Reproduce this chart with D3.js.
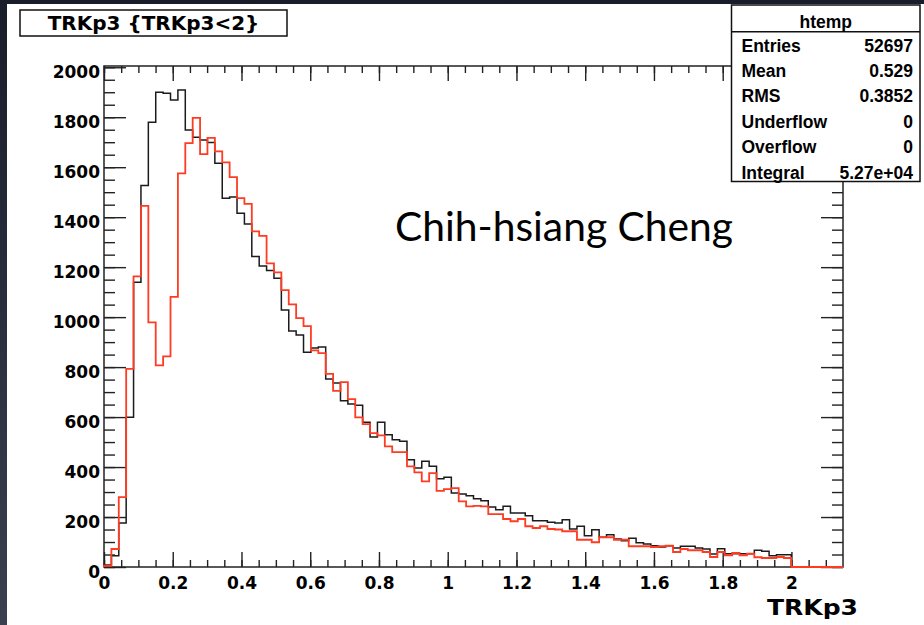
<!DOCTYPE html>
<html>
<head>
<meta charset="utf-8">
<script src="https://cdnjs.cloudflare.com/ajax/libs/d3/7.8.5/d3.min.js"></script>
<style>
  body { margin: 0; background: #1d2230; }
  svg { display: block; }
</style>
</head>
<body>
<div id="chart"></div>
<script>
// histogram binning (ROOT htemp)
var xMin = 0
var xMax = 2.15
var nBins = 100

// bin contents
var blackCounts = [8, 45, 176, 599, 1140, 1527, 1780, 1900, 1896, 1869,
  1909, 1749, 1720, 1709, 1699, 1616, 1476, 1481, 1416, 1373,
  1243, 1205, 1187, 1156, 1029, 944, 928, 859, 876, 880,
  752, 736, 665, 652, 647, 579, 520, 579, 529, 509,
  503, 429, 396, 423, 403, 353, 359, 296, 292, 285,
  273, 265, 240, 229, 243, 216, 216, 205, 185, 185,
  179, 176, 189, 152, 163, 125, 149, 119, 129, 112,
  105, 115, 97, 92, 85, 80, 85, 76, 83, 83,
  76, 72, 52, 73, 53, 53, 53, 53, 67, 63,
  45, 49, 49, 0, 0, 0, 0, 0, 0, 0]

var redCounts = [5, 72, 280, 793, 1163, 1445, 979, 807, 843, 1081,
  1575, 1696, 1797, 1652, 1717, 1663, 1619, 1560, 1476, 1453,
  1343, 1325, 1215, 1179, 1108, 1051, 996, 964, 867, 856,
  773, 705, 740, 672, 599, 572, 536, 527, 483, 460,
  460, 403, 379, 343, 376, 305, 312, 316, 263, 243,
  245, 243, 212, 212, 192, 183, 192, 163, 156, 163,
  152, 150, 143, 143, 109, 109, 99, 119, 119, 109,
  109, 83, 83, 83, 80, 83, 85, 60, 72, 67,
  67, 60, 40, 60, 47, 56, 47, 53, 39, 36,
  36, 40, 36, 0, 0, 0, 0, 0, 0, 0]

var xTicks = [0, 0.2, 0.4, 0.6, 0.8, 1, 1.2, 1.4, 1.6, 1.8, 2]
var yTicks = [0, 200, 400, 600, 800, 1000, 1200, 1400, 1600, 1800, 2000]
var yMax = 2005

var statNames = ["Entries", "Mean", "RMS", "Underflow", "Overflow", "Integral"]
var statValues = ["52697", "0.529", "0.3852", "0", "0", "5.27e+04"]

var width = 924
var height = 625
var frame = {left: 104, right: 843, top: 66, bottom: 567}

var svg, x, y

init_vis()
draw_axes()
draw_hist(blackCounts, "#1b1b1b", 1.5)
draw_hist(redCounts, "#ff3b22", 1.8)
draw_texts()
draw_stats()

function init_vis(){
  svg = d3.select("#chart")
    .append("svg")
      .attr("width", width)
      .attr("height", height)

  var grad = svg.append("defs").append("linearGradient")
    .attr("id", "bg").attr("x1", 0).attr("y1", 0).attr("x2", 0).attr("y2", 1)
  grad.append("stop").attr("offset", "0%").attr("stop-color", "#191d2a")
  grad.append("stop").attr("offset", "100%").attr("stop-color", "#3a404f")

  svg.append("rect")
    .attr("width", width).attr("height", height)
    .attr("fill", "url(#bg)")

  // white canvas of the ROOT picture
  svg.append("rect")
    .attr("x", 7).attr("y", 4)
    .attr("width", width - 7).attr("height", height - 4)
    .attr("fill", "white")

  x = d3.scaleLinear().domain([xMin, xMax]).range([frame.left, frame.right])
  y = d3.scaleLinear().domain([0, yMax]).range([frame.bottom, frame.top])
}

function style_axis(g){
  g.select(".domain").remove()
  g.selectAll("line").attr("stroke", "#222").attr("stroke-width", 1.4)
}

function draw_axes(){
  var minorX = d3.range(0, 43).map(i => i * 0.05)
  var minorY = d3.range(0, 41).map(i => i * 50)

  // bottom
  svg.append("g").attr("transform", "translate(0," + frame.bottom + ")")
    .call(d3.axisBottom(x).tickValues(minorX).tickSize(-7).tickFormat(""))
    .call(style_axis)
  svg.append("g").attr("class", "xlab").attr("transform", "translate(0," + frame.bottom + ")")
    .call(d3.axisBottom(x).tickValues(xTicks).tickSize(-15).tickPadding(10)
      .tickFormat(d => String(+d.toFixed(1))))
    .call(style_axis)

  // top (mirror)
  svg.append("g").attr("transform", "translate(0," + frame.top + ")")
    .call(d3.axisTop(x).tickValues(minorX).tickSize(-7).tickFormat(""))
    .call(style_axis)
  svg.append("g").attr("transform", "translate(0," + frame.top + ")")
    .call(d3.axisTop(x).tickValues(xTicks).tickSize(-15).tickFormat(""))
    .call(style_axis)

  // left
  svg.append("g").attr("transform", "translate(" + frame.left + ",0)")
    .call(d3.axisLeft(y).tickValues(minorY).tickSize(-11).tickFormat(""))
    .call(style_axis)
  svg.append("g").attr("class", "ylab").attr("transform", "translate(" + frame.left + ",0)")
    .call(d3.axisLeft(y).tickValues(yTicks).tickSize(-22).tickPadding(4)
      .tickFormat(d => String(d)))
    .call(style_axis)

  // right (mirror)
  svg.append("g").attr("transform", "translate(" + frame.right + ",0)")
    .call(d3.axisRight(y).tickValues(minorY).tickSize(-11).tickFormat(""))
    .call(style_axis)
  svg.append("g").attr("transform", "translate(" + frame.right + ",0)")
    .call(d3.axisRight(y).tickValues(yTicks).tickSize(-22).tickFormat(""))
    .call(style_axis)

  svg.selectAll(".xlab text, .ylab text")
    .attr("font-family", "DejaVu Sans")
    .attr("font-weight", "bold")
    .attr("font-size", 17)
    .attr("fill", "black")
  svg.selectAll(".ylab text").attr("dy", "0.62em")

  svg.append("rect")
    .attr("x", frame.left).attr("y", frame.top)
    .attr("width", frame.right - frame.left)
    .attr("height", frame.bottom - frame.top)
    .attr("fill", "none")
    .attr("stroke", "#222")
    .attr("stroke-width", 1.5)
}

function draw_hist(counts, color, lw){
  var bw = (xMax - xMin) / nBins
  var pts = [[xMin, 0]]
  counts.forEach(function(c, i){
    pts.push([xMin + i * bw, c])
    pts.push([xMin + (i + 1) * bw, c])
  })
  pts.push([xMax, 0])

  var line = d3.line()
    .x(d => x(d[0]))
    .y(d => y(d[1]))

  svg.append("path")
    .datum(pts)
    .attr("d", line)
    .attr("fill", "none")
    .attr("stroke", color)
    .attr("stroke-width", lw)
}

function draw_texts(){
  // title box
  svg.append("rect")
    .attr("x", 20).attr("y", 10).attr("width", 267).attr("height", 26)
    .attr("fill", "white").attr("stroke", "#111").attr("stroke-width", 1.5)
  svg.append("text")
    .attr("x", 153.5).attr("y", 30)
    .attr("text-anchor", "middle")
    .attr("font-family", "DejaVu Sans").attr("font-weight", "bold").attr("font-size", 20)
    .text("TRKp3 {TRKp3<2}")

  // x axis title
  svg.append("text")
    .attr("x", 858).attr("y", 615)
    .attr("text-anchor", "end")
    .attr("font-family", "DejaVu Sans").attr("font-weight", "bold").attr("font-size", 22)
    .attr("textLength", 91).attr("lengthAdjust", "spacingAndGlyphs")
    .text("TRKp3")

  // author label
  svg.append("text")
    .attr("x", 395).attr("y", 241)
    .attr("font-family", "Lato").attr("font-size", 40)
    .attr("textLength", 338).attr("lengthAdjust", "spacingAndGlyphs")
    .text("Chih-hsiang Cheng")
}

function draw_stats(){
  var bx = 731.5, by = 5, bwid = 188.5, bh = 176.5
  var g = svg.append("g")
  g.append("rect")
    .attr("x", bx).attr("y", by).attr("width", bwid).attr("height", bh)
    .attr("fill", "white").attr("stroke", "#111").attr("stroke-width", 1.5)
  g.append("line")
    .attr("x1", bx).attr("x2", bx + bwid).attr("y1", 31.7).attr("y2", 31.7)
    .attr("stroke", "#111").attr("stroke-width", 1.5)
  g.append("text")
    .attr("x", bx + bwid / 2).attr("y", 27.5)
    .attr("text-anchor", "middle")
    .attr("font-family", "Liberation Sans").attr("font-weight", "bold").attr("font-size", 17.5)
    .text("htemp")

  var rows = g.selectAll(".row")
    .data(statNames)
    .enter().append("g")
    .attr("transform", (d, i) => "translate(0," + (51.5 + i * 25.4) + ")")
  rows.append("text")
    .attr("x", 741.5)
    .attr("font-family", "Liberation Sans").attr("font-weight", "bold").attr("font-size", 17.5)
    .text(d => d)
  rows.append("text")
    .attr("x", 913)
    .attr("text-anchor", "end")
    .attr("font-family", "Liberation Sans").attr("font-weight", "bold").attr("font-size", 17.5)
    .text((d, i) => statValues[i])
}
</script>
</body>
</html>
